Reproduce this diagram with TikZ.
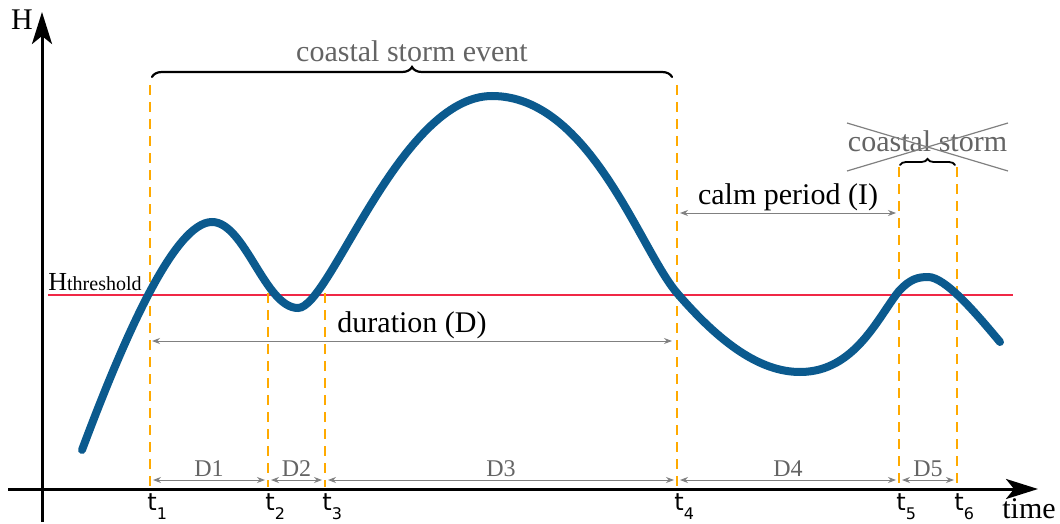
\documentclass[tikz,border=0pt]{standalone}
\usepackage{fontspec}
\setmainfont{Liberation Serif}
\newfontfamily\tfont{DejaVu Sans}
\usetikzlibrary{arrows.meta,decorations.pathreplacing}
\definecolor{curveblue}{RGB}{11,90,142}
\definecolor{threshred}{RGB}{240,40,70}
\definecolor{tickorange}{RGB}{255,170,0}
\definecolor{labelgray}{RGB}{100,100,100}

\begin{document}
\begin{tikzpicture}[x=0.5pt,y=-0.5pt,
  axis/.style={line width=1.5pt,-{Stealth[length=16pt,width=10pt,inset=4pt]}},
  tline/.style={tickorange,line width=1.4pt,dash pattern=on 5pt off 3.5pt},
  span/.style={gray,line width=0.5pt,{Stealth[length=4pt,width=3pt]}-{Stealth[length=4pt,width=3pt]}},
  spanlabel/.style={font=\fontsize{12}{14}\selectfont,text=labelgray,above,inner sep=1.5pt},
  textlabel/.style={font=\fontsize{15}{18}\selectfont,inner sep=0pt,text=black},
  tlabel/.style={font=\tfont\fontsize{12}{12}\selectfont,inner sep=0pt,anchor=north west},
  bracket/.style={decorate,line width=1.1pt,line cap=round}]
\useasboundingbox (0,0) rectangle (1060,524);

% axes
\coordinate (origin) at (42,489);
\coordinate (ytip) at (42,12);
\coordinate (ybot) at (42,522);
\coordinate (xleft) at (8,489);
\coordinate (xtip) at (1038,489);
\draw[axis] (ybot) -- (ytip);
\draw[axis] (xleft) -- (xtip);
\node[textlabel] (hlab) at (22,20) {H};
\node[textlabel,anchor=base] (timelab) at (1029,518) {time};

% threshold
\coordinate (thleft) at (48,295);
\coordinate (thright) at (1013,295);
\draw[threshred,line width=1pt] (thleft) -- (thright);
\node[inner sep=0pt,anchor=base west] (thlab) at (48,290)
  {\fontsize{13}{13}\selectfont H\fontsize{10}{10}\selectfont threshold};

% event times
\foreach \n/\x/\top in {1/150/85,2/268/293,3/325/293,4/677/85,5/899/167,6/957/167}{
  \coordinate (t\n top) at (\x,\top);
  \coordinate (t\n bot) at (\x,487);
  \coordinate (t\n span) at (\x,480);
  \draw[tline] (t\n top) -- (t\n bot);
  \node[tlabel] (t\n lab) at (\x-3,493) {t\raisebox{-4.5pt}{\fontsize{8}{8}\selectfont\n}};
}

% wave height
\draw[curveblue,line width=4pt,line cap=round] (82,450)
  .. controls (125,335) and (175,222) .. (212,222)
  .. controls (245,222) and (265,308) .. (298,308)
  .. controls (330,308) and (400,96) .. (492,96)
  .. controls (590,96) and (640,250) .. (677,293)
  .. controls (720,343) and (760,372) .. (800,372)
  .. controls (855,372) and (878,317) .. (899,291)
  .. controls (910,279) and (918,277) .. (928,277)
  .. controls (945,277) and (975,312) .. (1000,342);

% spans between times
\foreach \a/\b/\lbl in {1/2/D1,2/3/D2,3/4/D3,4/5/D4,5/6/D5}
  \draw[span] ([xshift=1.5pt]t\a span) -- node[spanlabel] (d\a) {\lbl} ([xshift=-1.5pt]t\b span);

\coordinate (durleft) at (152,341);
\coordinate (durright) at (672,341);
\draw[span] (durleft) -- node[textlabel,above=1pt] (durlab) {duration (D)} (durright);

\coordinate (calmleft) at (680,213);
\coordinate (calmright) at (896,213);
\draw[span] (calmleft) -- node[textlabel,above=0.8pt] (calmlab) {calm period (I)} (calmright);

% braces
\coordinate (evleft) at (152,77);
\coordinate (evright) at (672,77);
\draw[bracket,decoration={brace,amplitude=5pt}] (evleft) -- node[textlabel,above=7pt,text=labelgray] (evlab) {coastal storm event} (evright);

\coordinate (stleft) at (900,165);
\coordinate (stright) at (955,165);
\draw[bracket,line width=0.9pt,decoration={brace,amplitude=3pt}] (stleft) -- node[textlabel,above=6pt,text=labelgray] (stlab) {coastal storm} (stright);
\coordinate (crossa) at (847,123);
\coordinate (crossb) at (1008,171);
\coordinate (crossc) at (847,171);
\coordinate (crossd) at (1008,123);
\draw[gray,line width=0.6pt] (crossa) -- (crossb) (crossc) -- (crossd);
\end{tikzpicture}
\end{document}
